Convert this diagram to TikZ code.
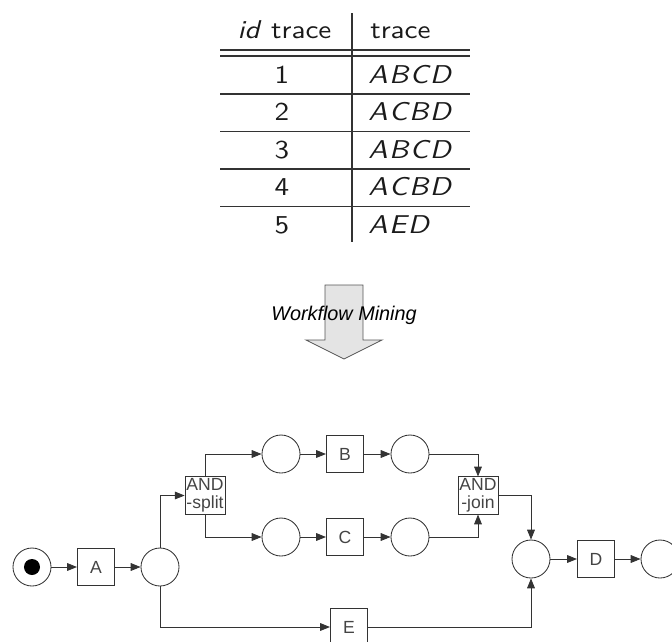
\documentclass[tikz,border=0pt]{standalone}
\usepackage{fontspec}
\usepackage{tikz}
\usetikzlibrary{arrows.meta}
\newfontfamily\netzschrift{Liberation Sans}
\newfontfamily\tabschrift{lmsans10}[Extension=.otf,UprightFont=*-regular,ItalicFont=*-oblique,
  SlantedFont=*-oblique,BoldFont=*-bold,FakeStretch=1.13]
\newcommand\lk{\kern1pt}
\definecolor{linie}{HTML}{333333}
\definecolor{schrift}{HTML}{444444}
\definecolor{tabschrift}{HTML}{1A1A1A}
\definecolor{pfeilfill}{HTML}{E4E4E4}
\definecolor{pfeilrand}{HTML}{555555}
\tikzset{
  stelle/.style={circle,draw=linie,line width=0.6pt,minimum size=0.95cm,inner sep=0pt},
  trans/.style={rectangle,draw=linie,line width=0.6pt,minimum size=0.93cm,inner sep=1pt,align=center,
    text=schrift,font=\netzschrift\fontsize{12.5}{13}\selectfont},
  kante/.style={-{Triangle[length=7pt,width=5.5pt]},linie,line width=0.6pt},
  tablinie/.style={linie,line width=0.8pt},
  tabtext/.style={inner sep=0pt,text=tabschrift,font=\tabschrift\fontsize{18.3}{21}\selectfont},
  blockpfeil/.style={fill=pfeilfill,draw=pfeilrand,line width=0.6pt},
}

\begin{document}
\begin{tikzpicture}[x=0.025cm,y=-0.025cm]
  \useasboundingbox (0,0) rectangle (672,641);
  \clip (0,0) rectangle (672,641);
  % Tabelle
  \node[tabtext,anchor=base] (kopf1) at (284.5,38) {\textit{id} trace};
  \node[tabtext,anchor=base west] (kopf2) at (370,38) {trace};
  \draw[tablinie] (220,50) -- (470,50) (220,56) -- (470,56);
  \draw[tablinie] (352,13) -- (352,242);
  \foreach \nr/\spur [count=\i from 0] in {1/A\lk B\lk C\lk D,2/A\lk C\lk B\lk D,3/A\lk B\lk C\lk D,4/A\lk C\lk B\lk D,5/A\lk E\lk D} {
    \node[tabtext,anchor=base] (nr\nr) at (282,83+37.5*\i) {\nr};
    \node[tabtext,anchor=base west] (spur\nr) at (368,83+37.5*\i) {\textit{\spur}};
  }
  \foreach \y in {94,131.5,169,206.5}
    \draw[tablinie] (220,\y) -- (470,\y);
  % Pfeil
  \draw[blockpfeil] (325,285) -- (363,285) -- (363,340) -- (382,340) -- (344,359)
    -- (306,340) -- (325,340) -- cycle;
  \node[inner sep=0pt,font=\netzschrift\itshape\fontsize{14.1}{17}\selectfont] (mining) at (344,315) {Workflow Mining};
  % Petrinetz
  \node[stelle] (start) at (32,567) {};
  \fill[black] (start.center) circle (0.2cm);
  \node[trans] (a) at (96,567) {A};
  \node[stelle] (p1) at (160,567) {};
  \node[trans] (split) at (205,495.5) {AND\\-split};
  \node[stelle] (pb1) at (281,454) {};
  \node[stelle] (pc1) at (281,537) {};
  \node[trans] (b) at (345,454) {B};
  \node[trans] (c) at (345,537) {C};
  \node[stelle] (pb2) at (410,454) {};
  \node[stelle] (pc2) at (410,537) {};
  \node[trans] (join) at (478,495.5) {AND\\-join};
  \node[stelle] (p4) at (531,559) {};
  \node[trans] (d) at (596,559) {D};
  \node[stelle] (ende) at (660,559) {};
  \node[trans] (e) at (349,627) {E};
  \draw[kante] (start) -- (a);
  \draw[kante] (a) -- (p1);
  \draw[kante] (p1) |- (split);
  \draw[kante] (split) |- (pb1);
  \draw[kante] (split) |- (pc1);
  \draw[kante] (pb1) -- (b);
  \draw[kante] (b) -- (pb2);
  \draw[kante] (pc1) -- (c);
  \draw[kante] (c) -- (pc2);
  \draw[kante] (pb2) -| (join);
  \draw[kante] (pc2) -| (join);
  \draw[kante] (join) -| (p4);
  \draw[kante] (p1) |- (e);
  \draw[kante] (e) -| (p4);
  \draw[kante] (p4) -- (d);
  \draw[kante] (d) -- (ende);
\end{tikzpicture}
\end{document}
